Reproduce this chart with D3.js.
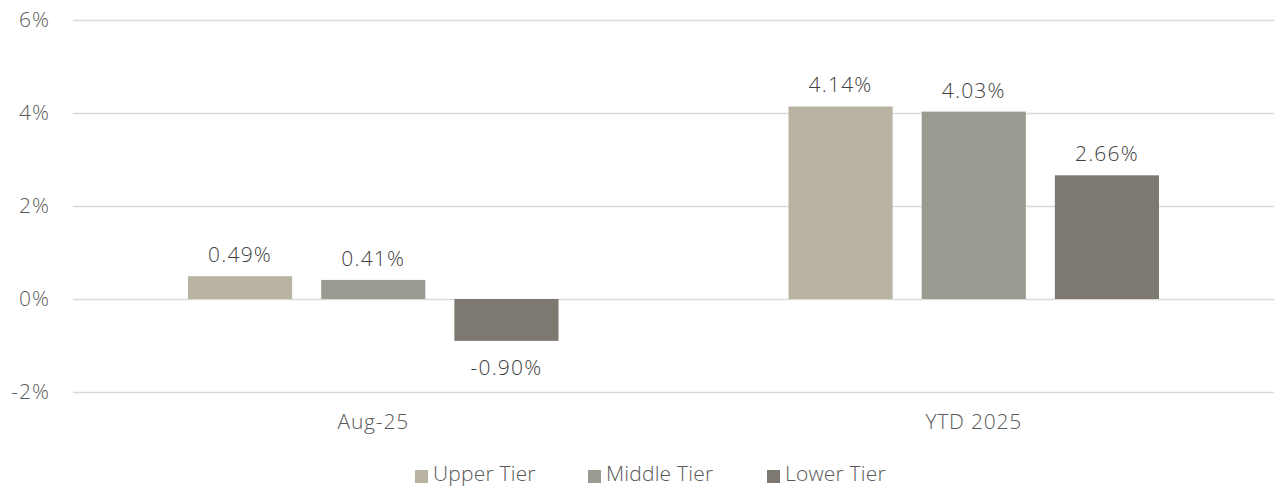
<!DOCTYPE html>
<html>
<head>
<meta charset="utf-8">
<script src="https://cdn.jsdelivr.net/npm/d3@7"></script>
<style>
  body { margin: 0; background: #fff; }
  text { font-family: "Open Sans", sans-serif; font-weight: 300; fill: #595959; }
</style>
</head>
<body>
<svg></svg>
<script>
// Chart data
const categories = ["Aug-25", "YTD 2025"];
const seriesNames = ["Upper Tier", "Middle Tier", "Lower Tier"];
const upperTier = [0.49, 4.14];
const middleTier = [0.41, 4.03];
const lowerTier = [-0.90, 2.66];
const yTicks = [-2, 0, 2, 4, 6];

const width = 1274;
const height = 488;
const margin = { top: 20, right: 0, bottom: 96, left: 73 };
const colors = ["#b9b3a3", "#9a9a90", "#7d7970"];

const svg = d3.select("svg")
    .attr("width", width)
    .attr("height", height);

const values = [upperTier, middleTier, lowerTier];
const rows = [];
categories.forEach((c, i) => {
    seriesNames.forEach((s, j) => {
        rows.push({ category: c, series: s, value: values[j][i], idx: j });
    });
});

// Scales
const x0 = d3.scaleBand()
    .domain(categories)
    .range([margin.left, width - margin.right])
    .paddingInner(0)
    .paddingOuter(0);

const x1 = d3.scaleBand()
    .domain(seriesNames)
    .range([115, x0.bandwidth() - 115])
    .paddingInner(0.218)
    .paddingOuter(0);

const y = d3.scaleLinear()
    .domain([-2, 6])
    .range([height - margin.bottom, margin.top]);

// Gridlines
svg.append("g")
    .selectAll("line")
    .data(yTicks)
    .enter()
    .append("line")
    .attr("x1", margin.left)
    .attr("x2", width - margin.right)
    .attr("y1", d => Math.round(y(d)) + 0.5)
    .attr("y2", d => Math.round(y(d)) + 0.5)
    .attr("stroke", "#d9d9d9")
    .attr("stroke-width", 1.5);

// Y axis labels
const yAxis = d3.axisLeft(y)
    .tickValues(yTicks)
    .tickFormat(d => d + "%")
    .tickSize(0)
    .tickPadding(0);

svg.append("g")
    .attr("transform", `translate(50, 0)`)
    .call(yAxis)
    .call(g => g.select(".domain").remove())
    .selectAll("text")
    .style("font-size", "21px")
    .style("font-family", "'Open Sans', sans-serif")
    .style("font-weight", 300)
    .style("letter-spacing", "1px")
    .attr("fill", "#595959");

// Category labels
svg.append("g")
    .selectAll("text")
    .data(categories)
    .enter()
    .append("text")
    .attr("x", d => x0(d) + x0.bandwidth() / 2)
    .attr("y", 429)
    .attr("text-anchor", "middle")
    .style("font-size", "21px")
    .style("letter-spacing", "0.8px")
    .text(d => d);

// Bars
svg.append("g")
    .selectAll("rect")
    .data(rows)
    .enter()
    .append("rect")
    .attr("x", d => x0(d.category) + x1(d.series))
    .attr("width", x1.bandwidth())
    .attr("y", d => y(Math.max(0, d.value)))
    .attr("height", d => Math.abs(y(d.value) - y(0)))
    .attr("fill", d => colors[d.idx]);

// Value labels
svg.append("g")
    .selectAll("text")
    .data(rows)
    .enter()
    .append("text")
    .attr("x", d => x0(d.category) + x1(d.series) + x1.bandwidth() / 2)
    .attr("y", d => d.value >= 0 ? y(d.value) - 14 : y(d.value) + 34)
    .attr("text-anchor", "middle")
    .style("font-size", "21px")
    .style("letter-spacing", "1.2px")
    .style("fill", "#404040")
    .text(d => d.value.toFixed(2) + "%");

// Legend
const legendX = [415, 588, 767];
const legend = svg.append("g")
    .selectAll("g")
    .data(seriesNames)
    .enter()
    .append("g")
    .attr("transform", (d, i) => `translate(${legendX[i]}, 470)`);

legend.append("rect")
    .attr("width", 13)
    .attr("height", 13)
    .attr("fill", (d, i) => colors[i]);

legend.append("text")
    .attr("x", 18)
    .attr("y", 11)
    .style("font-size", "21px")
    .style("letter-spacing", "0.2px")
    .text(d => d);
</script>
</body>
</html>
